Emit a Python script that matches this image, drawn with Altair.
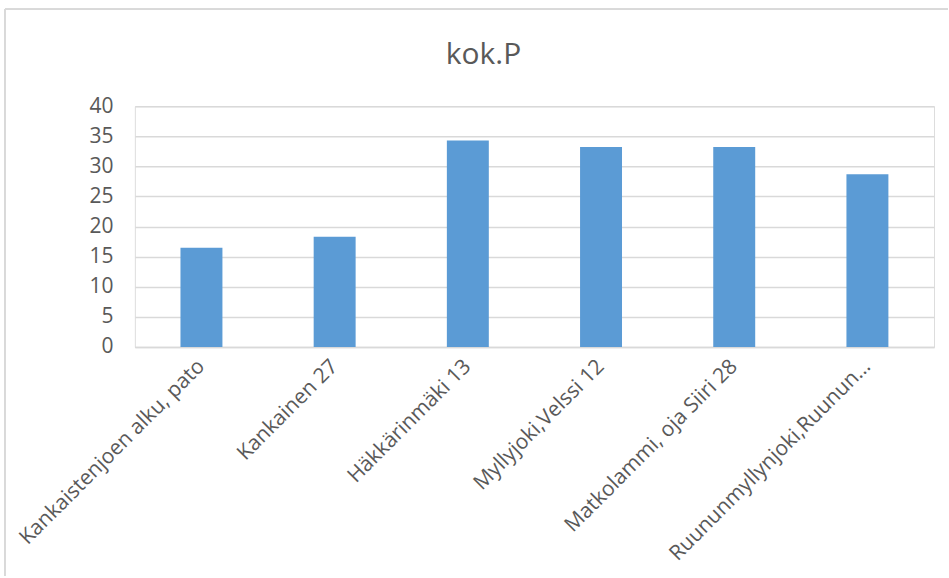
import altair as alt
import pandas as pd

# Sampling sites and total phosphorus (kok.P) per site
sites = [
    "Kankaistenjoen alku, pato",
    "Kankainen 27",
    "Häkkärinmäki 13",
    "Myllyjoki,Velssi 12",
    "Matkolammi, oja Siiri 28",
    "Ruununmyllynjoki,Ruunun…",
]
kok_p = [16.5, 18.3, 34.3, 33.2, 33.2, 28.7]
chart_title = ["kok.P"]

df = pd.DataFrame({"site": sites, "value": kok_p})
title_df = pd.DataFrame({"t": chart_title})

FONT = "Open Sans"
TEXT = "#595959"
GRID = "#D9D9D9"
W, H = 800, 241

bars = alt.Chart(df).mark_bar(color="#5B9BD5", size=42).encode(
    x=alt.X(
        "site:N",
        sort=sites,
        title=None,
        scale=alt.Scale(paddingInner=0, paddingOuter=0),
        axis=alt.Axis(
            labelAngle=-45,
            labelAlign="right",
            labelBaseline="middle",
            labelPadding=16,
            labelFontSize=21,
            labelColor=TEXT,
            labelFont=FONT,
            labelLimit=400,
            ticks=False,
            grid=False,
            domainColor=GRID,
            domainWidth=1.5,
        ),
    ),
    y=alt.Y(
        "value:Q",
        title=None,
        scale=alt.Scale(domain=[0, 40], nice=False),
        axis=alt.Axis(
            values=[0, 5, 10, 15, 20, 25, 30, 35, 40],
            labelFontSize=21,
            labelColor=TEXT,
            labelFont=FONT,
            labelPadding=22,
            ticks=False,
            domain=False,
            gridColor=GRID,
            gridWidth=1.5,
        ),
    ),
)

# Chart heading, centred over the whole chart rather than the plot area
heading = alt.Chart(title_df).mark_text(
    font=FONT, fontSize=30, color=TEXT, align="center", baseline="alphabetic"
).encode(text="t:N", x=alt.value(349), y=alt.value(-42))

# Light frame along the top and left edges of the chart area
frame_top = alt.Chart(df).mark_rule(color=GRID, strokeWidth=1.5).encode(
    x=alt.value(-130), x2=alt.value(814), y=alt.value(-97)
)
frame_left = alt.Chart(df).mark_rule(color=GRID, strokeWidth=1.5).encode(
    x=alt.value(-130), y=alt.value(-97), y2=alt.value(470)
)

chart = (
    alt.layer(frame_top, frame_left, heading, bars)
    .properties(
        width=W,
        height=H,
        padding={"left": 4, "top": 8, "right": 0, "bottom": 0},
    )
    .configure_view(strokeWidth=0)
    .configure(background="white")
)

chart.save("out.html", embed_options={"renderer": "svg", "actions": False})
